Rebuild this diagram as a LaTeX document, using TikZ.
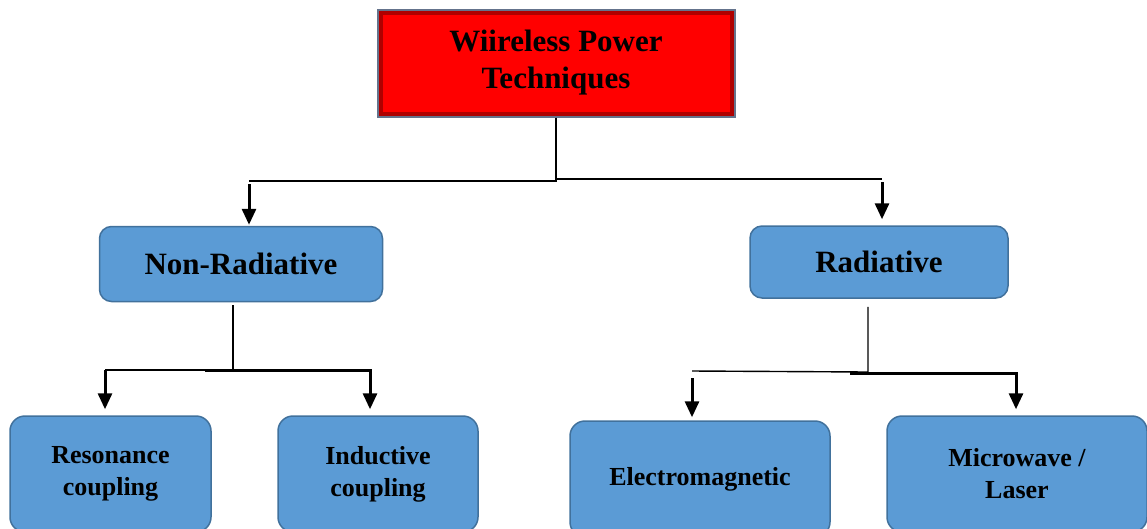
\documentclass[tikz,border=0pt]{standalone}
\usepackage{fontspec}
\setmainfont{Liberation Serif}
\usetikzlibrary{arrows.meta,positioning,calc}
\definecolor{boxblue}{RGB}{91,155,213}
\definecolor{boxline}{RGB}{65,113,156}
\definecolor{topline}{RGB}{100,115,140}
\definecolor{bevel}{RGB}{175,0,0}
\tikzset{
  topbox/.style={rectangle,draw=topline,fill=red,line width=2pt,
                 minimum width=357pt,minimum height=107pt,inner sep=0pt,align=center,
                 font=\bfseries\fontsize{31}{37}\selectfont,
                 path picture={\draw[bevel,line width=10pt]
                   (path picture bounding box.south west) rectangle
                   (path picture bounding box.north east);}},
  catbox/.style={rectangle,rounded corners=12pt,draw=boxline,fill=boxblue,line width=1.5pt,
                 minimum width=#1,minimum height=75pt,inner sep=0pt,align=center,
                 font=\bfseries\fontsize{31}{37}\selectfont},
  leafbox/.style={rectangle,rounded corners=15pt,draw=boxline,fill=boxblue,line width=1.5pt,
                  minimum width=#1,minimum height=116pt,inner sep=0pt,align=center,
                  font=\bfseries\fontsize{26}{32}\selectfont},
  link/.style={line width=1.4pt,black},
  arr/.style={-{Triangle[length=16pt,width=14pt]},line width=3pt,black},
}
\begin{document}
\begin{tikzpicture}[x=1pt,y=-1pt]
  \clip (0,0) rectangle (1147,528);

  \node[topbox] (wpt) at (556,63) {Wiireless Power\\Techniques};

  \node[catbox=283pt] (nonrad) at (241,264) {Non-Radiative};
  \node[catbox=258pt,minimum height=72pt] (rad) at (879,262) {Radiative};

  \node[leafbox=201pt] (res) at (110.5,474) {Resonance\\coupling};
  \node[leafbox=200pt] (ind) at (378,474) {Inductive\\coupling};
  \node[leafbox=260pt] (em) at (700,479) {Electromagnetic};
  \node[leafbox=260pt] (mw) at (1017,474) {Microwave /\\Laser};

  % top level split
  \coordinate (l0) at (249,181);
  \coordinate (r0) at (882,179);
  \draw[link] (wpt.south) |- (l0);
  \draw[link] (wpt.south) |- (r0);
  \draw[arr,shorten >=1pt] ($(l0)+(0,3)$) -- (l0 |- nonrad.north);
  \draw[arr,shorten >=6pt] ($(r0)+(0,3)$) -- (r0 |- rad.north);

  % non-radiative split
  \coordinate (j1) at (233,370);
  \coordinate (l1) at (105,370);
  \coordinate (r1) at (370,370);
  \draw[link] ($(nonrad.south)+(-8,3)$) -- (j1) -- (l1);
  \draw[arr,shorten >=6pt] (l1) -- (l1 |- res.north);
  \draw[arr,shorten >=6pt] (205,370) -| (r1 |- ind.north);

  % radiative split
  \coordinate (j2) at (868,372);
  \coordinate (l2) at (692,371);
  \coordinate (r2) at (1016,373);
  \draw[link] ($(rad.south)+(-11,8)$) -- (j2) -- (l2);
  \draw[arr,shorten >=3pt] ($(l2)+(0,7)$) -- (l2 |- em.north);
  \draw[arr,shorten >=6pt] (850,373) -| (r2 |- mw.north);
\end{tikzpicture}
\end{document}
